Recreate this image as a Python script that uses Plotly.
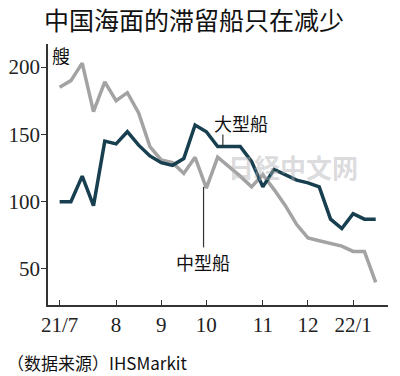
import plotly.graph_objects as go

# Weekly observations, Jul 2021 - Jan 2022
week_index = list(range(29))
large_ships = [100, 100, 119, 97, 145, 143, 152, 142, 134, 129, 127, 132, 157,
               152, 141, 141, 141, 130, 111, 124, 120, 116, 114, 111, 87, 80, 91, 87, 87]
medium_ships = [185, 190, 203, 167, 189, 175, 181, 166, 141, 131, 129, 121, 133,
                110, 133, 126, 119, 111, 120, 109, 97, 83, 73, 71, 69, 67, 63, 63, 40]

tick_positions = [0, 5, 9, 13, 18, 22, 26]
tick_labels = ["21/7", "8", "9", "10", "11", "12", "22/1"]
y_ticks = [50, 100, 150, 200]

title = "中国海面的滞留船只在减少"
unit = "艘"
large_label = "大型船"
medium_label = "中型船"
source = "（数据来源）IHSMarkit"
watermark = "日経中文网"

CJK = "Noto Sans CJK SC"
NUM = "Liberation Sans Narrow"
DARK = "#173f4f"
GRAY = "#a3a3a3"

fig = go.Figure()
fig.add_trace(go.Scatter(x=week_index, y=medium_ships, mode="lines",
                         line=dict(color=GRAY, width=3.5), hoverinfo="skip"))
fig.add_trace(go.Scatter(x=week_index, y=large_ships, mode="lines",
                         line=dict(color=DARK, width=3.5), hoverinfo="skip"))

# The page body has an 8px default margin, so the figure is 392x368.
fig.update_layout(
    width=392, height=368,
    margin=dict(l=40, r=12, t=36, b=71, autoexpand=False),
    paper_bgcolor="white", plot_bgcolor="white",
    showlegend=False,
    xaxis=dict(range=[-1.03, 29.09], tickmode="array", tickvals=tick_positions,
               ticktext=tick_labels, ticks="inside", ticklen=5, tickwidth=1.3,
               tickcolor="#333", showline=True, linecolor="#333", linewidth=1.5,
               showgrid=False, zeroline=False, automargin=False,
               tickfont=dict(family=NUM, size=21, color="#222")),
    yaxis=dict(range=[23.2, 217.2], tickmode="array", tickvals=y_ticks,
               ticks="outside", ticklen=5, tickwidth=1.3, tickcolor="#333",
               showline=True, linecolor="#333", linewidth=1.5,
               showgrid=False, zeroline=False, automargin=False,
               ticklabelstandoff=-3,
               tickfont=dict(family=NUM, size=21, color="#222")),
)

fig.add_annotation(text=title, xref="paper", yref="paper", x=0.43, y=1.0,
                   yshift=25, xanchor="center", yanchor="middle", showarrow=False,
                   font=dict(family=CJK, size=25, color="#111"))
fig.add_annotation(text=unit, xref="paper", yref="paper", x=0.005, y=0.957,
                   xanchor="left", yanchor="middle", showarrow=False,
                   font=dict(family=CJK, size=18, color="#111"))
fig.add_annotation(text=large_label, x=16.08, y=158.5, xanchor="center",
                   yanchor="middle", showarrow=False,
                   font=dict(family=CJK, size=18, color="#111"))
fig.add_annotation(text=medium_label, x=12.7, y=55, xanchor="center",
                   yanchor="middle", showarrow=False,
                   font=dict(family=CJK, size=18, color="#111"))
fig.add_annotation(text="<b>" + watermark + "</b>", x=20.7, y=125.8, xanchor="center",
                   yanchor="middle", showarrow=False,
                   font=dict(family="Noto Sans CJK JP", size=26,
                             color="rgba(175,175,180,0.45)"))
fig.add_annotation(text=source, xref="paper", yref="paper", x=-0.127, y=0,
                   yshift=-57, xanchor="left", yanchor="middle", showarrow=False,
                   font=dict(family=CJK, size=17, color="#111"))

fig.add_shape(type="line", x0=14.46, x1=14.46, y0=141, y1=150,
              line=dict(color="#333", width=1.2))
fig.add_shape(type="line", x0=12.75, x1=12.75, y0=111, y1=66,
              line=dict(color="#333", width=1.2))

fig.write_html("out.html")
